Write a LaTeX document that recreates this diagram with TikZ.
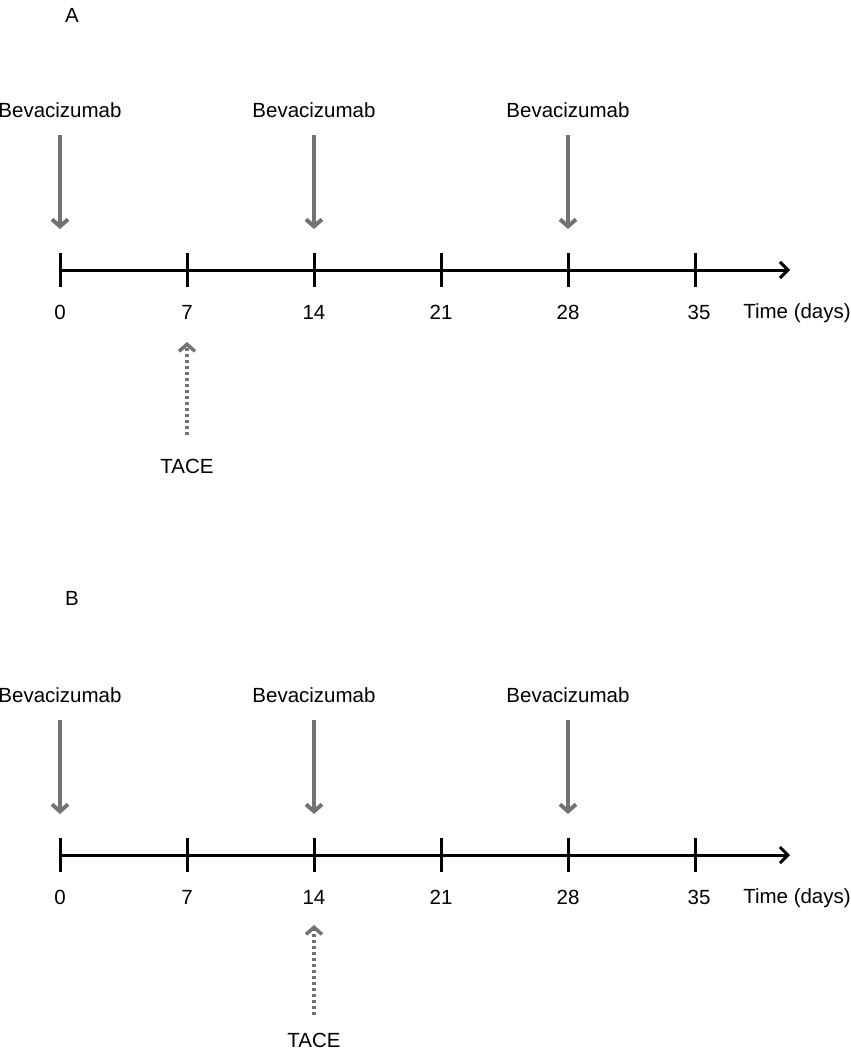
\documentclass[tikz,border=0pt]{standalone}
\usepackage{fontspec}
\setmainfont{Liberation Sans}
\usetikzlibrary{arrows.meta}
\begin{document}
\begin{tikzpicture}[x=1pt,y=-1pt,
  lbl/.style={font=\fontsize{20.5}{22}\selectfont, inner sep=0pt, anchor=center},
  drug/.style={draw=black!55, line width=4pt, -{Straight Barb[length=7pt,width=16pt]}},
  tace/.style={draw=black!55, line width=3.5pt, dash pattern=on 3pt off 3pt, -{Straight Barb[length=7pt,width=16pt]}},
  axis/.style={draw=black, line width=3pt, -{Straight Barb[length=8pt,width=16pt]}},
  tick/.style={draw=black, line width=3pt}]
\useasboundingbox (0,0) rectangle (851,1050);
\foreach \p/\oy/\tx/\lettery/\tsy/\tey/\tly in {A/0/187/15/435/342/466, B/585/314/598/430/340/455}{
  \begin{scope}[yshift=-\oy pt]
  \node[lbl] (let\p) at (72,\lettery-\oy) {\p};
  \foreach \x/\n in {60/0,314/1,568/2}{
    \node[lbl] (bev\p\n) at (\x,110) {Bevacizumab};
    \coordinate (bt\p\n) at (\x,135);
    \coordinate (bh\p\n) at (\x,229);
    \draw[drug] (bt\p\n) -- (bh\p\n);
  }
  \coordinate (ax0\p) at (60,270);
  \coordinate (ax1\p) at (790,270);
  \draw[axis] (ax0\p) -- (ax1\p);
  \foreach \x/\d in {60/0,187/7,314/14,441/21,568/28,695/35}{
    \coordinate (tt\p\d) at (\x,253);
    \coordinate (tb\p\d) at (\x,287);
    \draw[tick] (tt\p\d) -- (tb\p\d);
  }
  \foreach \x/\d in {60/0,187/7,314/14,441/21,568/28,699/35}{
    \node[lbl] (num\p\d) at (\x,312) {\d};
  }
  \node[lbl] (time\p) at (797,313) {Time (days)};
  \coordinate (ts\p) at (\tx,\tsy);
  \coordinate (te\p) at (\tx,\tey);
  \draw[tace] (ts\p) -- (te\p);
  \node[lbl] (tacel\p) at (\tx,\tly) {TACE};
  \end{scope}
}
\end{tikzpicture}
\end{document}
